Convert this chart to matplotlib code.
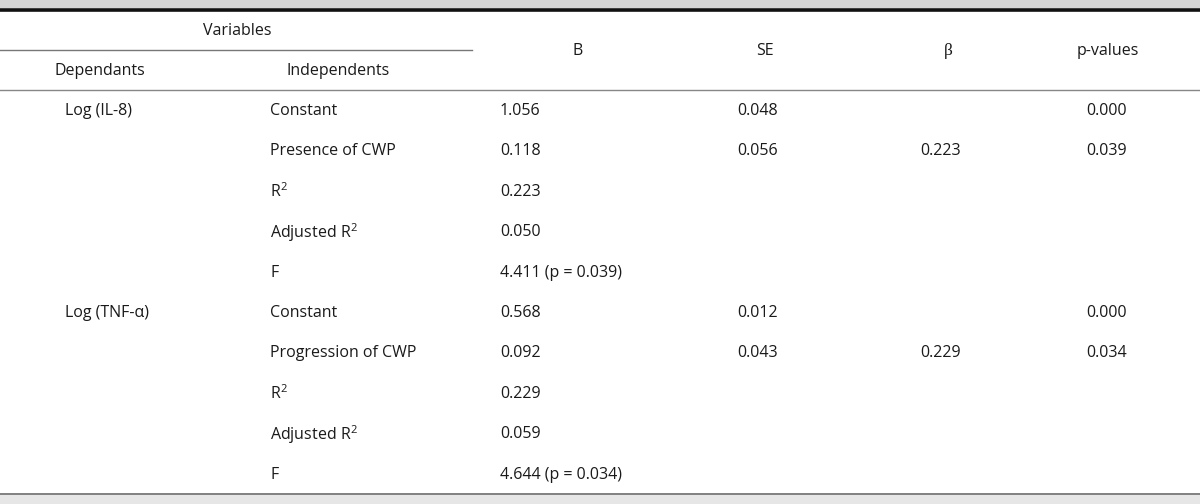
import matplotlib.pyplot as plt
from matplotlib.patches import Rectangle

plt.rcParams['font.family'] = ['Open Sans', 'DejaVu Sans']
plt.rcParams['mathtext.default'] = 'regular'

# table content
dependants = ['Log (IL-8)', '', '', '', '', 'Log (TNF-α)', '', '', '', '']
independents = ['Constant', 'Presence of CWP', 'R$^{2}$', 'Adjusted R$^{2}$', 'F',
                'Constant', 'Progression of CWP', 'R$^{2}$', 'Adjusted R$^{2}$', 'F']
b_vals = ['1.056', '0.118', '0.223', '0.050', '4.411 (p = 0.039)',
          '0.568', '0.092', '0.229', '0.059', '4.644 (p = 0.034)']
se_vals = ['0.048', '0.056', '', '', '', '0.012', '0.043', '', '', '']
beta_vals = ['', '0.223', '', '', '', '', '0.229', '', '', '']
p_vals = ['0.000', '0.039', '', '', '', '0.000', '0.034', '', '', '']

fig = plt.figure(figsize=(12, 5.04), dpi=100)
ax = fig.add_axes([0, 0, 1, 1])
ax.set_xlim(0, 1200)
ax.set_ylim(504, 0)
ax.axis('off')

fs = 11.5
col = '#1a1a1a'

# bands and rules
ax.add_patch(Rectangle((0, 0), 1200, 8, color='#d4d4d4', lw=0))
ax.plot([0, 1200], [9.5, 9.5], color='#111111', lw=2.6, solid_capstyle='butt')
ax.plot([0, 472], [49.5, 49.5], color='#777777', lw=1.0)
ax.plot([0, 1200], [89.5, 89.5], color='#888888', lw=1.0)
ax.plot([0, 1200], [494, 494], color='#808080', lw=1.4)
ax.add_patch(Rectangle((0, 495), 1200, 9, color='#e6e6e6', lw=0))

# header
ax.text(237, 31, 'Variables', ha='center', va='center', fontsize=fs, color=col)
ax.text(100, 71, 'Dependants', ha='center', va='center', fontsize=fs, color=col)
ax.text(338, 71, 'Independents', ha='center', va='center', fontsize=fs, color=col)
ax.text(578, 51, 'B', ha='center', va='center', fontsize=fs, color=col)
ax.text(765, 51, 'SE', ha='center', va='center', fontsize=fs, color=col)
ax.text(948, 51, 'β', ha='center', va='center', fontsize=fs + 1, color=col,
        family=['Liberation Serif', 'DejaVu Serif'])
ax.text(1108, 51, 'p-values', ha='center', va='center', fontsize=fs, color=col)

# rows
y0, dy = 111, 40.4
columns = [(65, dependants), (270, independents), (500, b_vals),
           (737, se_vals), (920, beta_vals), (1086, p_vals)]
for i in range(len(independents)):
    y = y0 + i * dy
    for x, vals in columns:
        if vals[i]:
            ax.text(x, y, vals[i], ha='left', va='center', fontsize=fs, color=col)

fig.savefig('out.png', dpi=100)
